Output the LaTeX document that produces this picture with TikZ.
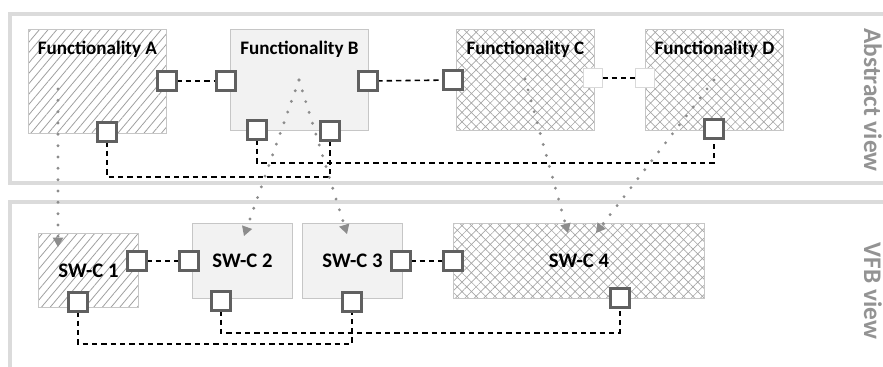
\documentclass[tikz,border=0pt]{standalone}
\usepackage{fontspec}
\setmainfont{Carlito}
\usetikzlibrary{patterns.meta,arrows.meta}

\begin{document}
\begin{tikzpicture}[x=0.75pt,y=-0.75pt,
				frame/.style={draw=gray!28,line width=2.8pt},
				box/.style={rectangle,draw=gray!45,line width=0.7pt,inner sep=0pt,anchor=north west},
				plain/.style={box,fill=gray!10},
				striped/.style={box,pattern={Lines[angle=50,distance=5pt,line width=0.6pt]},pattern color=gray!75},
				checked/.style={box,pattern={Hatch[angle=45,distance=5pt,line width=0.5pt]},pattern color=gray!70},
				funbox/.style={minimum width=103.5pt,minimum height=75.75pt},
				swcbox/.style={minimum width=75pt,minimum height=56.25pt,font=\fontsize{15.5}{18}\selectfont\bfseries},
				funtext/.style={anchor=base,yshift=-19.5pt,font=\fontsize{14.3}{17}\selectfont\bfseries},
				port/.style={rectangle,draw=gray!75!black,fill=white,line width=2pt,minimum size=14.5pt,inner sep=0pt},
				lport/.style={port,draw=gray!30,line width=1pt},
				wire/.style={draw=black,line width=1.2pt,dash pattern=on 4pt off 3pt},
				trace/.style={draw=gray!90,line width=2.4pt,line cap=round,dash pattern=on 0pt off 8.5pt,
					-{Triangle[length=7pt,width=8pt,fill=gray!90,line width=0pt]}},
				viewtext/.style={rotate=-90,anchor=base,text=gray!85,font=\fontsize{19}{22}\selectfont\bfseries}]
\useasboundingbox (0,0) rectangle (883,367);

% the two views
\draw[frame] (10,14) rectangle (895,183);
\draw[frame] (10,202) rectangle (895,380);
\node[viewtext] (abs) at (864,100) {Abstract view};
\node[viewtext] (vfb) at (864,291) {VFB view};

% abstract view
\node[striped,funbox,minimum height=78pt,label={[funtext]north:Functionality A}] (A) at (28,29) {};
\node[plain,funbox,label={[funtext]north:Functionality B}] (B) at (230,29) {};
\node[checked,funbox,label={[funtext]north:Functionality C}] (C) at (456,29) {};
\node[checked,funbox,label={[funtext]north:Functionality D}] (D) at (645,29) {};

% VFB view
\node[striped,swcbox,minimum height=55.5pt] (S1) at (38,233) {SW-C 1};
\node[plain,swcbox] (S2) at (192,223) {SW-C 2};
\node[plain,swcbox] (S3) at (302,223) {SW-C 3};
\node[checked,swcbox,minimum width=188.25pt] (S4) at (453,223) {SW-C 4};

% connectors
\draw[wire] (167,81) -- (226,81);
\draw[wire] (368,81) -- (453,80);
\draw[wire] (593,78) -- (645,78);
\draw[wire] (257,130) -- (257,163) -| (714,129);
\draw[wire] (107,132) -- (107,177) -| (330,131);
\draw[wire] (137,261) -- (189,261);
\draw[wire] (401,261) -- (453,261);
\draw[wire] (221,301) -- (221,333) -| (620,298);
\draw[wire] (78,302) -- (78,344) -| (352,302);

% ports
\node[port] (pA1) at (167,81) {};
\node[port] (pA2) at (107,132) {};
\node[port] (pB1) at (226,81) {};
\node[port] (pB2) at (368,81) {};
\node[port] (pB3) at (257,130) {};
\node[port] (pB4) at (330,131) {};
\node[port] (pC1) at (453,80) {};
\node[lport] (pC2) at (593,78) {};
\node[lport] (pD1) at (645,78) {};
\node[port] (pD2) at (714,129) {};
\node[port] (pS1a) at (137,261) {};
\node[port] (pS1b) at (78,302) {};
\node[port] (pS2a) at (189,261) {};
\node[port] (pS2b) at (221,301) {};
\node[port] (pS3a) at (401,261) {};
\node[port] (pS3b) at (352,302) {};
\node[port] (pS4a) at (453,261) {};
\node[port] (pS4b) at (620,298) {};

% mapping to software components
\coordinate (fromA) at (58,89);
\coordinate (fromB) at (299,80);
\coordinate (fromC) at (525,79);
\coordinate (fromD) at (714,80);
\coordinate (toS1) at (58,247);
\coordinate (toS2) at (244,236);
\coordinate (toS3) at (347,234);
\coordinate (toS4a) at (568,233);
\coordinate (toS4b) at (596,233);
\draw[trace] (fromA) -- (toS1);
\draw[trace] (fromB) -- (toS2);
\draw[trace] (fromB) -- (toS3);
\draw[trace] (fromC) -- (toS4a);
\draw[trace] (fromD) -- (toS4b);
\end{tikzpicture}
\end{document}
